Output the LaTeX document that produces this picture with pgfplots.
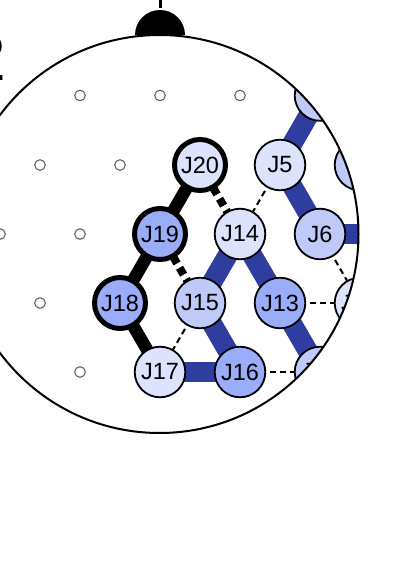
\documentclass[border=0pt]{standalone}
\usepackage{pgfplots}
\pgfplotsset{compat=1.18}
\usepackage{fontspec}
\setmainfont{Liberation Sans}
\definecolor{nlight}{HTML}{DDE3FD}
\definecolor{nmed}{HTML}{BFCAF9}
\definecolor{ndark}{HTML}{9BACF8}
\definecolor{eblue}{HTML}{2F3E9E}
\pgfplotsset{
  blueE/.style={draw=eblue, line width=20pt, forget plot},
  blueT/.style={draw=eblue, line width=7pt, forget plot},
  blackE/.style={draw=black, line width=12.5pt, forget plot},
  blackD/.style={draw=black, line width=8pt, dash pattern=on 8pt off 5pt, forget plot},
  thinD/.style={draw=black, line width=2pt, dash pattern=on 6pt off 4pt, forget plot},
  lab/.style={nodes near coords, point meta=explicit symbolic, nodes near coords align={center},
    every node near coord/.append style={font=\fontsize{23.5}{23.5}\selectfont, text=black, anchor=center, inner sep=0pt}},
}
\begin{document}
\begin{tikzpicture}
\begin{axis}[name=ax, scale only axis, width=413pt, height=573pt,
  xmin=0, xmax=413, ymin=0, ymax=573, y dir=reverse, hide axis, clip=true]
% blue edges
\addplot[blueE] coordinates {(240,234) (200,303)};
\addplot[blueE] coordinates {(240,234) (280,303)};
\addplot[blueE] coordinates {(280,303) (320,372)};
\addplot[blueE] coordinates {(200,303) (240,372)};
\addplot[blueE] coordinates {(160,372) (240,372)};
\addplot[blueE] coordinates {(280,165) (320,234)};
\addplot[blueE] coordinates {(280,165) (320,95.5)};
\addplot[blueE] coordinates {(320,234) (400,234)};
\addplot[blueT] coordinates {(320,95.5) (360,165)};
\addplot[blueT] coordinates {(360,303) (320,372)};
% black edges
\addplot[blackE] coordinates {(200,165) (160,234)};
\addplot[blackE] coordinates {(160,234) (120,303)};
\addplot[blackE] coordinates {(120,303) (160,372)};
\addplot[blackD] coordinates {(200,165) (240,234)};
\addplot[blackD] coordinates {(160,234) (200,303)};
% thin dashed edges
\addplot[thinD] coordinates {(280,165) (240,234)};
\addplot[thinD] coordinates {(200,303) (160,372)};
\addplot[thinD] coordinates {(240,372) (320,372)};
\addplot[thinD] coordinates {(280,303) (360,303)};
\addplot[thinD] coordinates {(320,234) (360,303)};
% empty electrode sites
\addplot[only marks, mark=o, mark size=5.3pt, mark options={draw=black!60, fill=white, line width=1.1pt}] coordinates {
(80,95.5) (160,95.5) (240,95.5) (40,165) (120,165) (0,234) (80,234) (40,303) (80,372)};
% nodes
\addplot[only marks, mark=*, mark size=25.3pt, mark options={fill=nlight, draw=black, line width=1.8pt}, lab] table[meta=lab] {
x y lab
280 165 J5
240 234 J14
160 372 J17
360 303 J12
};
\addplot[only marks, mark=*, mark size=25.5pt, mark options={fill=nlight, draw=black, line width=5pt}, lab] table[meta=lab] {
x y lab
200 165 J20
};
\addplot[only marks, mark=*, mark size=25.3pt, mark options={fill=nmed, draw=black, line width=1.8pt}, lab] table[meta=lab] {
x y lab
320 234 J6
200 303 J15
320 95.5 J4
360 165 J7
320 372 J11
};
\addplot[only marks, mark=*, mark size=25.3pt, mark options={fill=ndark, draw=black, line width=1.8pt}, lab] table[meta=lab] {
x y lab
280 303 J13
240 372 J16
};
\addplot[only marks, mark=*, mark size=25.5pt, mark options={fill=ndark, draw=black, line width=5pt}, lab] table[meta=lab] {
x y lab
160 234 J19
120 303 J18
};
\end{axis}
% mask outside the head (axis: 1 unit = 1pt, y reversed)
\coordinate (hc) at ([shift={(159.5pt,339pt)}]ax.south west);
\fill[white, even odd rule] ([shift={(-20pt,-20pt)}]ax.south west) rectangle ([shift={(20pt,20pt)}]ax.north east) (hc) circle[radius=199pt];
% nose
\draw[line width=3pt] ([shift={(160pt,565pt)}]ax.south west) -- ([shift={(160pt,585pt)}]ax.south west);
\fill[black] ([shift={(135pt,538pt)}]ax.south west) arc[start angle=180, end angle=0, radius=25pt] -- cycle;
% head
\draw[line width=2pt] (hc) circle[radius=199pt];
% panel label (cut off at the left edge)
\node[anchor=base east, inner sep=0pt, font=\fontsize{66}{66}\selectfont] at ([shift={(6pt,492pt)}]ax.south west) {2};
\pgfresetboundingbox
\useasboundingbox (ax.south west) rectangle (ax.north east);
\end{tikzpicture}
\end{document}
